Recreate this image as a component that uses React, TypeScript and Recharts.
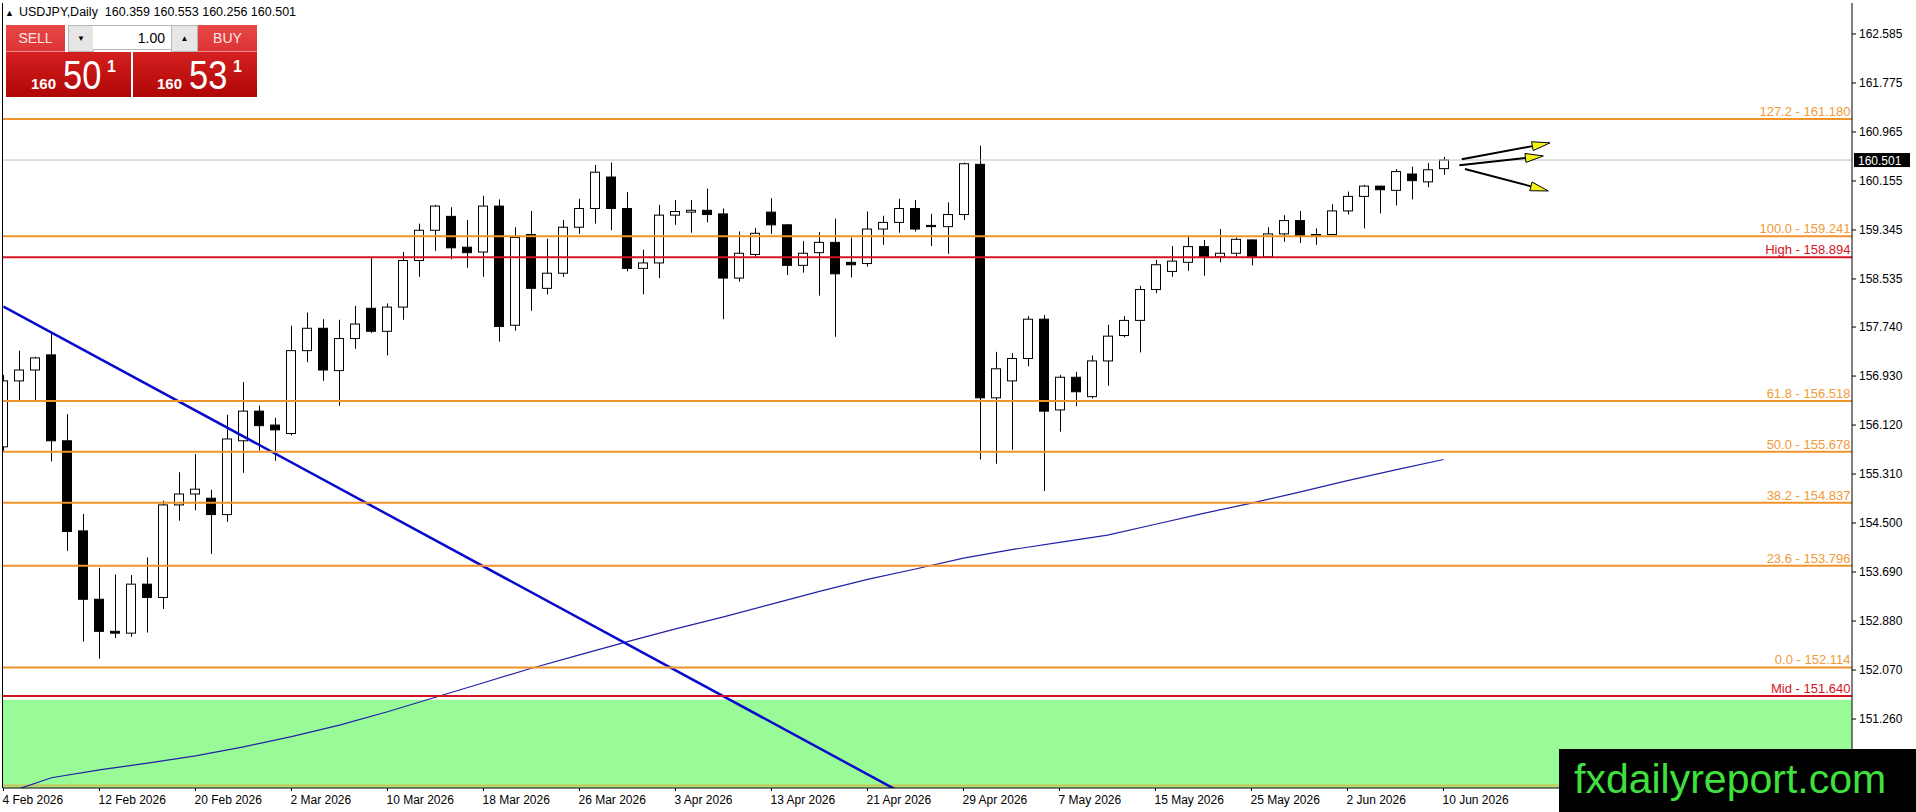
import React from "react";
import { ComposedChart, Bar, Line, XAxis, YAxis, ReferenceLine, ReferenceArea } from "recharts";

// USDJPY daily, 4 Feb 2026 .. 10 Jun 2026 (one entry per bar)
const opens = [
  155.76, 156.85, 157.03, 157.28, 155.86, 154.37, 153.24, 152.71, 152.68, 153.49,
  153.27, 154.80, 154.98, 154.91, 154.64, 155.86, 156.35, 156.12, 155.98, 157.35,
  157.72, 157.02, 157.55, 158.05, 157.67, 158.07, 158.84, 159.34, 159.57, 159.06,
  158.98, 159.74, 157.77, 159.27, 158.38, 158.63, 159.39, 159.70, 160.22, 159.70,
  158.71, 158.80, 159.59, 159.64, 159.67, 159.61, 158.55, 158.94, 159.64, 159.43,
  158.76, 158.97, 159.14, 158.81, 158.79, 159.36, 159.47, 159.70, 159.42, 159.40,
  159.60, 160.43, 156.57, 156.85, 157.22, 157.87, 156.37, 156.91, 156.59, 157.18,
  157.60, 157.85, 158.36, 158.66, 158.81, 159.07, 158.90, 158.96, 159.18, 158.90,
  159.28, 159.50, 159.25, 159.27, 159.66, 159.90, 160.07, 160.00, 160.27, 160.14,
  160.359,
];
const highs = [
  156.95, 157.35, 157.25, 157.65, 156.30, 154.65, 153.76, 153.65, 153.64, 153.93,
  154.87, 155.34, 155.64, 155.05, 156.29, 156.83, 156.44, 156.24, 157.76, 157.98,
  157.87, 157.86, 158.09, 158.88, 158.13, 158.98, 159.45, 159.76, 159.72, 159.51,
  159.91, 159.85, 159.39, 159.66, 159.20, 159.51, 159.86, 160.42, 160.46, 159.97,
  159.02, 159.76, 159.84, 159.84, 160.03, 159.70, 159.32, 159.38, 159.87, 159.44,
  159.16, 159.31, 159.53, 159.22, 159.65, 159.58, 159.86, 159.84, 159.61, 159.80,
  160.46, 160.74, 157.33, 157.31, 157.92, 157.94, 156.95, 157.00, 157.27, 157.78,
  157.92, 158.42, 158.85, 159.08, 159.26, 159.18, 159.36, 159.22, 159.19, 159.39,
  159.59, 159.66, 159.37, 159.77, 159.98, 160.09, 160.07, 160.35, 160.39, 160.45,
  160.553,
];
const lows = [
  155.68, 156.52, 156.52, 155.52, 154.04, 152.54, 152.26, 152.60, 152.62, 152.69,
  153.08, 154.54, 154.71, 153.99, 154.52, 155.33, 155.70, 155.53, 155.95, 157.16,
  156.85, 156.44, 157.38, 157.64, 157.27, 157.86, 158.57, 159.00, 158.86, 158.72,
  158.57, 157.50, 157.68, 158.01, 158.28, 158.57, 159.28, 159.45, 159.34, 158.66,
  158.28, 158.55, 159.43, 159.30, 159.47, 157.87, 158.49, 158.90, 159.28, 158.60,
  158.64, 158.26, 157.58, 158.56, 158.74, 159.10, 159.30, 159.32, 159.08, 158.95,
  159.51, 155.55, 155.48, 155.71, 157.09, 155.03, 156.01, 156.43, 156.56, 156.77,
  157.57, 157.32, 158.30, 158.57, 158.67, 158.59, 158.81, 158.90, 158.76, 158.90,
  159.15, 159.13, 159.10, 159.27, 159.60, 159.37, 159.62, 159.75, 159.85, 160.05,
  160.256,
];
const closes = [
  156.85, 157.03, 157.23, 155.86, 154.36, 153.24, 152.71, 152.68, 153.49, 153.27,
  154.80, 154.98, 155.06, 154.64, 155.89, 156.35, 156.11, 156.04, 157.35, 157.72,
  157.03, 157.55, 157.79, 157.67, 158.07, 158.84, 159.34, 159.74, 159.05, 158.97,
  159.74, 157.75, 159.22, 158.38, 158.63, 159.39, 159.70, 160.30, 159.70, 158.71,
  158.80, 159.59, 159.65, 159.67, 159.60, 158.55, 158.96, 159.29, 159.43, 158.76,
  158.96, 159.14, 158.62, 158.77, 159.36, 159.47, 159.70, 159.36, 159.40, 159.60,
  160.44, 156.57, 157.05, 157.22, 157.87, 156.35, 156.91, 156.67, 157.18, 157.59,
  157.85, 158.36, 158.77, 158.83, 159.07, 158.90, 158.96, 159.19, 158.90, 159.28,
  159.50, 159.25, 159.27, 159.66, 159.90, 160.07, 160.01, 160.31, 160.16, 160.34,
  160.501,
];

// moving average read every 3rd bar (bar 0, 3, 6 ... 90)
const MA_STEP = 3;
const maValues = [
  150.02, 150.29, 150.42, 150.53, 150.65, 150.80, 150.97, 151.16, 151.38, 151.62,
  151.86, 152.10, 152.32, 152.54, 152.75, 152.95, 153.16, 153.37, 153.57, 153.74,
  153.92, 154.06, 154.18, 154.30, 154.48, 154.66, 154.83, 155.01, 155.20, 155.38,
  155.55,
];

const DATE_STEP = 6;
const dateLabels = [
  "4 Feb 2026", "12 Feb 2026", "20 Feb 2026", "2 Mar 2026", "10 Mar 2026", "18 Mar 2026",
  "26 Mar 2026", "3 Apr 2026", "13 Apr 2026", "21 Apr 2026", "29 Apr 2026", "7 May 2026",
  "15 May 2026", "25 May 2026", "2 Jun 2026", "10 Jun 2026",
];

const priceTicks = [
  162.585, 161.775, 160.965, 160.155, 159.345, 158.535, 157.74, 156.93,
  156.12, 155.31, 154.5, 153.69, 152.88, 152.07, 151.26,
];

const fibLevels: [string, number][] = [
  ["127.2", 161.18],
  ["100.0", 159.241],
  ["61.8", 156.518],
  ["50.0", 155.678],
  ["38.2", 154.837],
  ["23.6", 153.796],
  ["0.0", 152.114],
];
const rangeLevels: [string, number][] = [
  ["High", 158.894],
  ["Mid", 151.64],
];
const supportZone = [149.5, 151.58];
const zoneEdge = 150.16;

// [bar index, price]
const trendLine: [number, number][] = [[0, 158.08], [56, 150.06]];
const arrows: [number, number][][] = [
  [[91.14, 160.514], [96.66, 160.785]],
  [[90.99, 160.415], [96.24, 160.568]],
  [[91.34, 160.352], [96.55, 159.99]],
];

const symbolName = "USDJPY,Daily";
const bidBig = "50";
const askBig = "53";
const priceHandle = "160";
const lotSize = "1.00";

const rows = opens.map((o, i) => ({
  i,
  open: o,
  high: highs[i],
  low: lows[i],
  close: closes[i],
  range: [lows[i], highs[i]],
  ma: i % MA_STEP === 0 ? maValues[i / MA_STEP] : null,
}));
const last = rows[rows.length - 1];

const FONT = "'Liberation Sans', Arial, sans-serif";
const ORANGE = "#f0932a";
const ORANGE_TEXT = "#f09a38";
const RED = "#d4141f";

function Candle(props: any) {
  const { x, y, width, height, payload } = props;
  if (x == null || y == null) return null;
  const top = Math.min(y, y + height);
  const h = Math.abs(height);
  const span = payload.high - payload.low;
  const toY = (p: number) => (span === 0 ? top : top + ((payload.high - p) / span) * h);
  const cx = Math.round(x + width / 2) + 0.5;
  const yo = toY(payload.open);
  const yc = toY(payload.close);
  const bull = payload.close >= payload.open;
  const bodyTop = Math.min(yo, yc);
  const bodyH = Math.max(Math.abs(yo - yc), 1);
  return (
    <g>
      <line x1={cx} x2={cx} y1={top} y2={top + h} stroke="#000" strokeWidth={1} />
      <rect
        x={Math.round(x) + 0.5}
        y={bodyTop}
        width={Math.round(width) - 1}
        height={bodyH}
        fill={bull ? "#fff" : "#000"}
        stroke="#000"
        strokeWidth={1}
      />
    </g>
  );
}

function Arrow(props: any) {
  const { x1, y1, x2, y2 } = props;
  const dx = x2 - x1;
  const dy = y2 - y1;
  const len = Math.hypot(dx, dy) || 1;
  const ux = dx / len;
  const uy = dy / len;
  const headLen = 18;
  const headW = 4.5;
  const bx = x2 - ux * headLen;
  const by = y2 - uy * headLen;
  const px = -uy * headW;
  const py = ux * headW;
  return (
    <g>
      <line x1={x1} y1={y1} x2={bx} y2={by} stroke="#000" strokeWidth={2} />
      <polygon
        points={`${x2},${y2} ${bx + px},${by + py} ${bx - px},${by - py}`}
        fill="#f2f21a"
        stroke="#000"
        strokeWidth={1}
      />
    </g>
  );
}

const levelLabel = (text: string, color: string) => (props: any) => {
  const vb = props.viewBox;
  return (
    <text x={vb.x + vb.width - 1.5} y={vb.y - 3} textAnchor="end" fill={color} fontSize={13} fontFamily={FONT}>
      {text}
    </text>
  );
};

const priceBox = (props: any) => {
  const vb = props.viewBox;
  const right = vb.x + vb.width;
  return (
    <g>
      <rect x={right + 2} y={vb.y - 7} width={56} height={14} fill="#000" />
      <text x={right + 6} y={vb.y + 4.5} fill="#fff" fontSize={12} fontFamily={FONT}>
        {last.close.toFixed(3)}
      </text>
    </g>
  );
};

function DateTick(props: any) {
  const { x, y, payload } = props;
  const label = dateLabels[Math.round(payload.value / DATE_STEP)];
  return (
    <text x={x - 1} y={y + 11} textAnchor="start" fill="#000" fontSize={12} fontFamily={FONT}>
      {label}
    </text>
  );
}

const redTop = "linear-gradient(#e84848, #dc3434)";
const redBottom = "linear-gradient(#d42020, #b00606)";

function TradePanel() {
  const abs = (s: React.CSSProperties): React.CSSProperties => ({ position: "absolute", ...s });
  const bigDigits = (left: number, big: string) => (
    <>
      <span style={abs({ left, top: 76, fontSize: 15, fontWeight: "bold", lineHeight: 1, color: "#fff" })}>
        {priceHandle}
      </span>
      <span
        style={abs({
          left: left + 32,
          top: 55,
          fontSize: 40,
          lineHeight: 1,
          color: "#fff",
          transform: "scaleX(0.86)",
          transformOrigin: "left",
        })}
      >
        {big}
      </span>
      <span style={abs({ left: left + 76, top: 59, fontSize: 16, fontWeight: "bold", lineHeight: 1, color: "#fff" })}>
        1
      </span>
    </>
  );
  return (
    <div style={{ position: "absolute", left: 0, top: 0, fontFamily: FONT }}>
      <div style={abs({ left: 5, top: 5, fontSize: 12.5, color: "#000", whiteSpace: "nowrap" })}>
        <span style={{ fontSize: 9, marginRight: 5 }}>▲</span>
        {symbolName}&nbsp;&nbsp;{last.open.toFixed(3)} {last.high.toFixed(3)} {last.low.toFixed(3)}{" "}
        {last.close.toFixed(3)}
      </div>
      <div
        style={abs({
          left: 6, top: 25, width: 59, height: 26, background: redTop, color: "#ffe6e6",
          fontSize: 14, display: "flex", alignItems: "center", justifyContent: "center",
          borderBottom: "1px solid #f08a8a",
        })}
      >
        SELL
      </div>
      <div
        style={abs({
          left: 68, top: 25, width: 24, height: 25, background: "#e6e6e6", border: "1px solid #b8b8b8",
          fontSize: 8, display: "flex", alignItems: "center", justifyContent: "center", color: "#000",
        })}
      >
        ▼
      </div>
      <div
        style={abs({
          left: 93, top: 25, width: 78, height: 25, background: "#fff", borderTop: "1px solid #b8b8b8",
          borderBottom: "1px solid #b8b8b8", fontSize: 14, lineHeight: "25px", textAlign: "right",
          boxSizing: "border-box", paddingRight: 6, color: "#000",
        })}
      >
        {lotSize}
      </div>
      <div
        style={abs({
          left: 171, top: 25, width: 25, height: 25, background: "#e6e6e6", border: "1px solid #b8b8b8",
          fontSize: 8, display: "flex", alignItems: "center", justifyContent: "center", color: "#000",
        })}
      >
        ▲
      </div>
      <div
        style={abs({
          left: 198, top: 25, width: 59, height: 26, background: redTop, color: "#ffe6e6",
          fontSize: 14, display: "flex", alignItems: "center", justifyContent: "center",
          borderBottom: "1px solid #f08a8a",
        })}
      >
        BUY
      </div>
      <div style={abs({ left: 6, top: 52, width: 125, height: 45, background: redBottom })} />
      <div style={abs({ left: 133, top: 52, width: 124, height: 45, background: redBottom })} />
      {bigDigits(31, bidBig)}
      {bigDigits(157, askBig)}
    </div>
  );
}

export default function App() {
  return (
    <div
      style={{
        position: "absolute", left: 0, top: 0, width: 1916, height: 812,
        background: "#fff", overflow: "hidden", fontFamily: FONT,
      }}
    >
      <ComposedChart width={1916} height={812} data={rows} margin={{ top: 3, right: 0, bottom: 0, left: 3 }}>
        <XAxis
          dataKey="i"
          type="number"
          domain={[-0.03, 115.53]}
          allowDataOverflow
          ticks={dateLabels.map((_, k) => k * DATE_STEP)}
          tick={<DateTick />}
          tickSize={3}
          tickMargin={2}
          height={24}
          stroke="#000"
          interval={0}
        />
        <YAxis
          orientation="right"
          width={64}
          domain={[150.12, 163.097]}
          allowDataOverflow
          ticks={priceTicks}
          interval={0}
          tickFormatter={(v: number) => v.toFixed(3)}
          tick={{ fill: "#000", fontSize: 12, fontFamily: FONT }}
          tickSize={4}
          tickMargin={3}
          stroke="#000"
        />
        <ReferenceArea
          y1={supportZone[0]}
          y2={supportZone[1]}
          fill="#98fb98"
          fillOpacity={1}
          stroke="none"
          ifOverflow="hidden"
        />
        <ReferenceLine y={zoneEdge} stroke="#cbbf58" strokeWidth={2} ifOverflow="hidden" />
        <Bar dataKey="range" barSize={10} shape={<Candle />} isAnimationActive={false} />
        <Line
          dataKey="ma"
          type="linear"
          stroke="#2121a6"
          strokeWidth={1.2}
          dot={false}
          connectNulls
          isAnimationActive={false}
        />
        <ReferenceLine
          segment={trendLine.map(([x, y]) => ({ x, y }))}
          stroke="#0a0acd"
          strokeWidth={2.5}
          ifOverflow="hidden"
        />
        <ReferenceLine y={last.close} stroke="#c0c0c0" strokeWidth={1} label={priceBox} />
        {fibLevels.map(([name, p]) => (
          <ReferenceLine
            key={name}
            y={p}
            stroke={ORANGE}
            strokeWidth={2}
            label={levelLabel(`${name} - ${p.toFixed(3)}`, ORANGE_TEXT)}
          />
        ))}
        {rangeLevels.map(([name, p]) => (
          <ReferenceLine
            key={name}
            y={p}
            stroke={RED}
            strokeWidth={2}
            label={levelLabel(`${name} - ${p.toFixed(3)}`, RED)}
          />
        ))}
        {arrows.map((seg, k) => (
          <ReferenceLine
            key={`arrow-${k}`}
            segment={seg.map(([x, y]) => ({ x, y }))}
            shape={<Arrow />}
            ifOverflow="visible"
          />
        ))}
      </ComposedChart>
      <div style={{ position: "absolute", left: 2, top: 3, width: 1, height: 785, background: "#000" }} />
      <TradePanel />
      <div
        style={{
          position: "absolute", left: 1559, top: 749, width: 357, height: 63, background: "#000",
          color: "#3fe03f", fontSize: 41, lineHeight: "60px", paddingLeft: 15, boxSizing: "border-box",
          fontFamily: FONT, whiteSpace: "nowrap",
        }}
      >
        fxdailyreport.com
      </div>
    </div>
  );
}
